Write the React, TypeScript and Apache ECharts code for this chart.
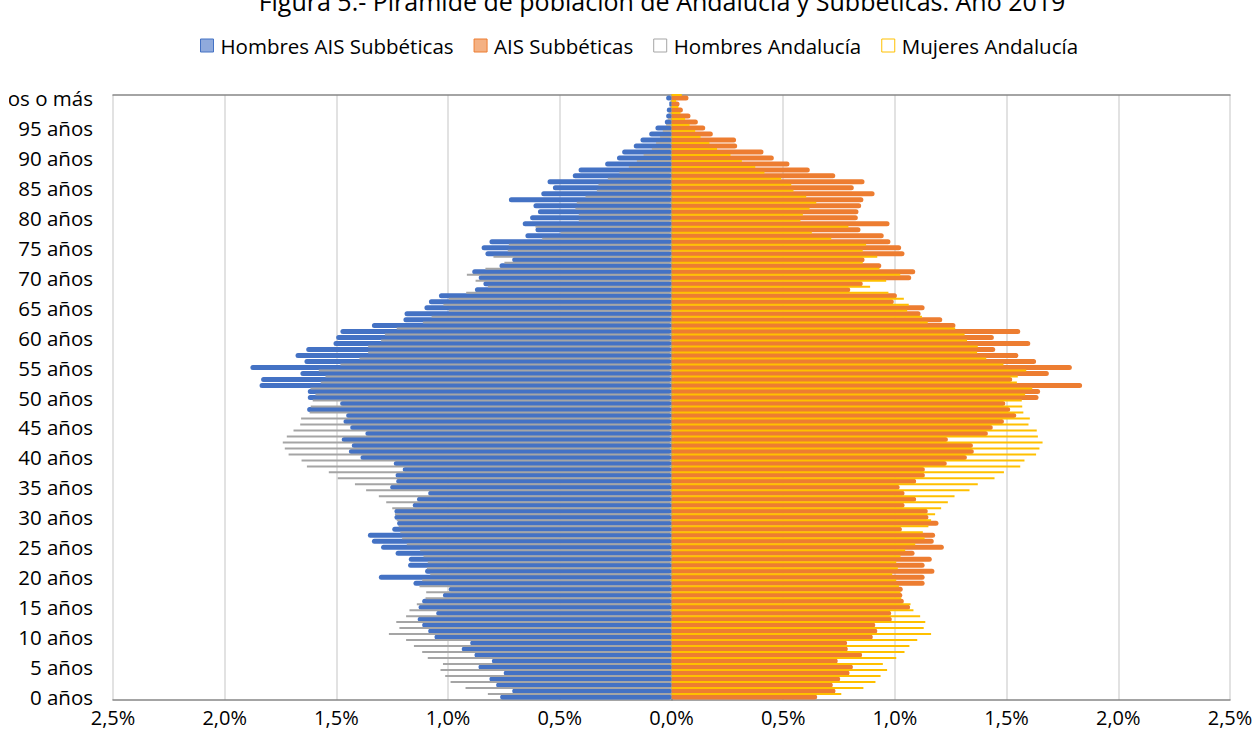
import React, { useEffect, useRef } from "react";
import * as echarts from "echarts";

const categories: string[] = Array.from({ length: 101 }, (_, i) =>
  i === 100 ? "100 años o más" : `${i} años`
);

// % values per age (0 .. 100+)
const hombresAIS = [
  0.767, 0.713, 0.785, 0.815, 0.751, 0.864, 0.804, 0.882, 0.939, 0.901,
  1.061, 1.089, 1.116, 1.136, 1.053, 1.132, 1.116, 1.023, 0.997, 1.155,
  1.310, 1.103, 1.179, 1.176, 1.235, 1.300, 1.341, 1.359, 1.250, 1.228,
  1.240, 1.240, 1.158, 1.139, 1.089, 1.259, 1.232, 1.235, 1.203, 1.243,
  1.392, 1.444, 1.431, 1.476, 1.370, 1.438, 1.468, 1.456, 1.631, 1.483,
  1.628, 1.628, 1.844, 1.837, 1.661, 1.885, 1.643, 1.683, 1.635, 1.513,
  1.501, 1.482, 1.341, 1.200, 1.195, 1.106, 1.086, 1.041, 0.880, 0.842,
  0.863, 0.892, 0.770, 0.713, 0.833, 0.850, 0.815, 0.654, 0.609, 0.666,
  0.633, 0.598, 0.618, 0.728, 0.583, 0.531, 0.555, 0.442, 0.416, 0.297,
  0.244, 0.221, 0.169, 0.139, 0.100, 0.072, 0.030, 0.024, 0.021, 0.010,
  0.024,
];

const mujeresAIS = [
  0.652, 0.734, 0.722, 0.755, 0.797, 0.812, 0.744, 0.853, 0.789, 0.786,
  0.901, 0.921, 0.912, 0.986, 0.983, 1.068, 1.040, 1.033, 1.035, 1.133,
  1.133, 1.177, 1.133, 1.165, 1.088, 1.219, 1.174, 1.180, 1.031, 1.195,
  1.150, 1.147, 1.043, 1.095, 1.043, 1.021, 1.095, 1.134, 1.134, 1.232,
  1.322, 1.353, 1.349, 1.237, 1.416, 1.438, 1.488, 1.543, 1.516, 1.494,
  1.643, 1.650, 1.838, 1.525, 1.689, 1.792, 1.632, 1.553, 1.449, 1.606,
  1.443, 1.561, 1.271, 1.212, 1.115, 1.133, 0.995, 1.009, 0.800, 0.856,
  1.073, 1.091, 0.939, 0.864, 1.043, 1.028, 0.980, 0.950, 0.846, 0.976,
  0.834, 0.837, 0.849, 0.859, 0.909, 0.816, 0.864, 0.733, 0.619, 0.528,
  0.458, 0.412, 0.294, 0.289, 0.185, 0.151, 0.118, 0.085, 0.051, 0.036,
  0.076,
];

const hombresAndalucia = [
  0.822, 0.922, 0.989, 1.013, 1.034, 1.023, 1.091, 1.116, 1.153, 1.188,
  1.265, 1.218, 1.232, 1.188, 1.173, 1.140, 1.101, 1.098, 1.128, 1.116,
  1.080, 1.095, 1.091, 1.110, 1.125, 1.185, 1.206, 1.214, 1.221, 1.230,
  1.238, 1.250, 1.277, 1.310, 1.367, 1.417, 1.494, 1.534, 1.632, 1.656,
  1.714, 1.731, 1.740, 1.722, 1.692, 1.662, 1.658, 1.620, 1.615, 1.606,
  1.594, 1.616, 1.570, 1.549, 1.579, 1.482, 1.397, 1.358, 1.358, 1.300,
  1.283, 1.230, 1.113, 1.074, 0.997, 1.021, 0.997, 0.919, 0.822, 0.877,
  0.916, 0.833, 0.748, 0.797, 0.733, 0.728, 0.579, 0.497, 0.609, 0.415,
  0.415, 0.430, 0.424, 0.385, 0.334, 0.327, 0.285, 0.233, 0.191, 0.155,
  0.125, 0.088, 0.069, 0.051, 0.039, 0.024, 0.016, 0.012, 0.008, 0.005,
  0.006,
];

const mujeresAndalucia = [
  0.760, 0.859, 0.913, 0.936, 0.965, 0.946, 1.006, 1.043, 1.065, 1.100,
  1.162, 1.129, 1.136, 1.113, 1.083, 1.070, 1.028, 1.025, 1.018, 1.006,
  0.988, 1.013, 1.006, 1.025, 1.046, 1.091, 1.133, 1.125, 1.150, 1.162,
  1.180, 1.207, 1.237, 1.267, 1.334, 1.371, 1.446, 1.488, 1.561, 1.580,
  1.632, 1.647, 1.661, 1.640, 1.635, 1.598, 1.604, 1.575, 1.570, 1.568,
  1.583, 1.615, 1.546, 1.550, 1.588, 1.486, 1.409, 1.368, 1.371, 1.323,
  1.312, 1.270, 1.147, 1.121, 1.055, 1.062, 1.040, 0.971, 0.889, 0.961,
  1.024, 0.931, 0.856, 0.921, 0.856, 0.871, 0.715, 0.628, 0.792, 0.577,
  0.588, 0.618, 0.648, 0.603, 0.546, 0.536, 0.491, 0.416, 0.375, 0.315,
  0.264, 0.204, 0.170, 0.130, 0.106, 0.081, 0.061, 0.040, 0.031, 0.021,
  0.046,
];

const seriesNames = [
  "Hombres AIS Subbéticas",
  "AIS Subbéticas",
  "Hombres Andalucía",
  "Mujeres Andalucía",
];

const titleText = "Figura 5.- Pirámide de población de Andalucía y Subbéticas. Año 2019";

const FONT = "'Open Sans', 'Noto Sans', sans-serif";

export default function App() {
  const ref = useRef<HTMLDivElement>(null);
  useEffect(() => {
    if (!ref.current) return;
    const chart = echarts.init(ref.current, undefined, { renderer: "svg" });
    const fmt = (v: number) => Math.abs(v).toFixed(1).replace(".", ",") + "%";
    const gridA = { left: 104, right: 28, top: 95, bottom: 49, outerBoundsMode: "none", containLabel: false };
    const gridB = { left: 104, right: 28, top: 92, bottom: 52, outerBoundsMode: "none", containLabel: false };
    chart.setOption({
      animation: false,
      backgroundColor: "#ffffff",
      textStyle: { fontFamily: FONT },
      graphic: [
        {
          type: "text",
          x: 653,
          y: -12,
          style: {
            text: titleText,
            font: `25px ${FONT}`,
            fill: "#000000",
            textAlign: "center",
            textVerticalAlign: "top",
          },
        },
      ],
      legend: {
        top: 30,
        left: 186,
        itemWidth: 13,
        itemHeight: 13,
        itemGap: 20,
        icon: "rect",
        textStyle: { fontSize: 20.5, color: "#000000", fontFamily: FONT, padding: [0, 0, 0, 2] },
        data: [
          { name: seriesNames[0], itemStyle: { color: "#8FAADC", borderColor: "#4472C4", borderWidth: 1 } },
          { name: seriesNames[1], itemStyle: { color: "#F4B183", borderColor: "#ED7D31", borderWidth: 1 } },
          { name: seriesNames[2], itemStyle: { color: "#FFFFFF", borderColor: "#A5A5A5", borderWidth: 1 } },
          { name: seriesNames[3], itemStyle: { color: "#FFFFFF", borderColor: "#FFC000", borderWidth: 1 } },
        ],
      },
      grid: [gridA, gridB],
      xAxis: [
        {
          gridIndex: 0,
          type: "value",
          min: -2.5,
          max: 2.5,
          interval: 0.5,
          axisLine: { show: true, lineStyle: { color: "#868686", width: 1.5 } },
          axisTick: { show: false },
          axisLabel: { formatter: fmt, fontSize: 20, color: "#000000", margin: 7, fontFamily: FONT },
          splitLine: { show: true, lineStyle: { color: "#D9D9D9", width: 1.5 } },
        },
        { gridIndex: 1, type: "value", min: -2.5, max: 2.5, show: false },
        {
          gridIndex: 0,
          type: "value",
          min: -2.5,
          max: 2.5,
          position: "top",
          axisLine: { show: true, lineStyle: { color: "#868686", width: 1.5 } },
          axisTick: { show: false },
          axisLabel: { show: false },
          splitLine: { show: false },
        },
      ],
      yAxis: [
        {
          gridIndex: 0,
          type: "category",
          data: categories,
          axisLine: { show: true, lineStyle: { color: "#868686", width: 1.5 } },
          axisTick: { show: false },
          axisLabel: { interval: 4, fontSize: 20.5, color: "#000000", margin: 20, fontFamily: FONT },
          splitLine: { show: false },
        },
        { gridIndex: 1, type: "category", data: categories, show: false },
      ],
      series: [
        {
          name: seriesNames[0],
          type: "bar",
          xAxisIndex: 0,
          yAxisIndex: 0,
          barWidth: 5,
          barGap: "-100%",
          itemStyle: { color: "#4472C4", borderRadius: 2.5 },
          data: hombresAIS.map((v) => -v),
        },
        {
          name: seriesNames[1],
          type: "bar",
          xAxisIndex: 0,
          yAxisIndex: 0,
          barWidth: 5,
          barGap: "-100%",
          itemStyle: { color: "#ED7D31", borderRadius: 2.5 },
          data: mujeresAIS,
        },
        {
          name: seriesNames[2],
          type: "bar",
          xAxisIndex: 1,
          yAxisIndex: 1,
          barWidth: 2,
          barGap: "-100%",
          itemStyle: { color: "#A5A5A5" },
          data: hombresAndalucia.map((v) => -v),
        },
        {
          name: seriesNames[3],
          type: "bar",
          xAxisIndex: 1,
          yAxisIndex: 1,
          barWidth: 2,
          barGap: "-100%",
          itemStyle: { color: "#FFC000" },
          data: mujeresAndalucia,
        },
      ],
    });
    return () => chart.dispose();
  }, []);
  return (
    <div
      ref={ref}
      style={{ position: "absolute", left: 9, top: 0, width: 1249, height: 749 }}
    />
  );
}
